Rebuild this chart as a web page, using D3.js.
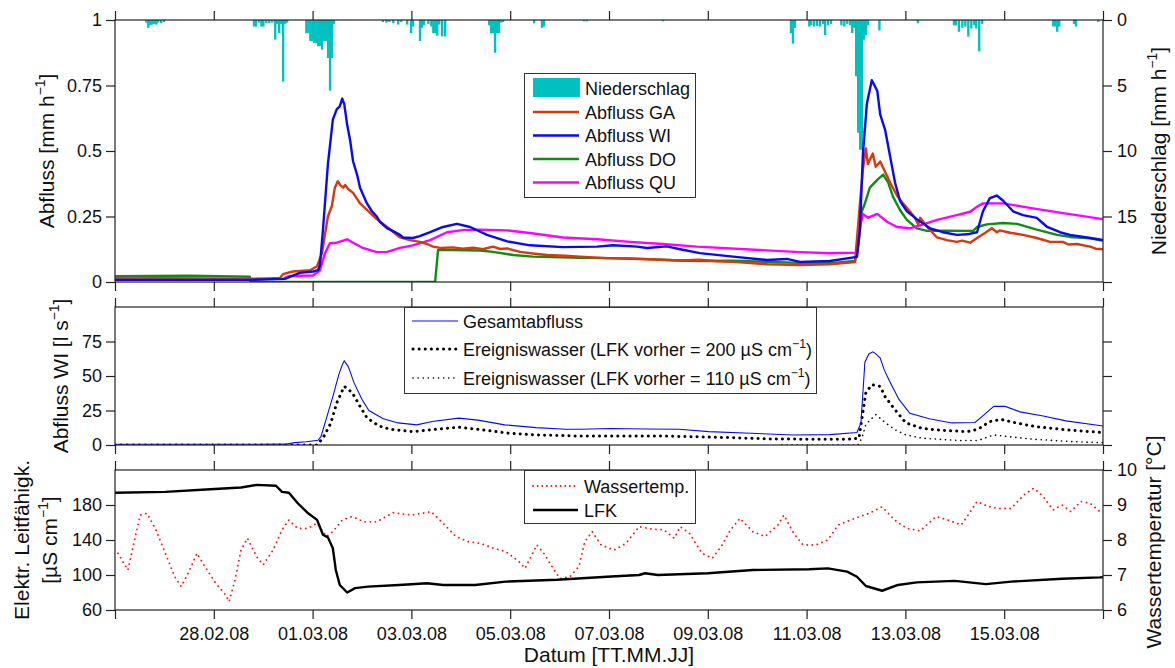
<!DOCTYPE html>
<html><head><meta charset="utf-8">
<script src="https://cdn.jsdelivr.net/npm/d3@7"></script>
<style>
body{margin:0;background:#fff}
text{font-family:"Liberation Sans",Arial,Helvetica,sans-serif;fill:#111}
</style>
</head><body>
<svg id="c" width="1175" height="668"></svg>
<script>
// ---------- DATA (day offset from 26.02.08 00:00) ----------
const tickDays = [0,2,4,6,8,10,12,14,16,18,20];
const tickLabels = ["","28.02.08","01.03.08","03.03.08","05.03.08","07.03.08","09.03.08","11.03.08","13.03.08","15.03.08",""];

const precip = [
 [0.61,0.2],[0.65,0.6],[0.69,0.4],[0.73,0.35],[0.77,0.3],[0.81,0.35],[0.85,0.2],[0.91,0.25],[0.97,0.15],
 [2.79,0.5],[2.83,0.5],[2.89,0.2],[2.94,0.5],[2.98,0.5],[3.04,0.25],[3.10,0.25],[3.16,0.2],[3.22,1.5],[3.26,0.3],[3.30,1.0],[3.34,0.3],[3.38,4.7],[3.42,0.3],[3.46,0.2],
 [3.85,1.0],[3.89,1.0],[3.93,1.6],[3.97,1.6],[4.01,1.75],[4.05,1.75],[4.09,2.0],[4.13,2.0],[4.17,2.26],[4.21,1.6],[4.25,1.6],[4.29,2.9],[4.33,5.4],[4.37,2.9],[4.41,0.3],
 [5.40,0.15],[5.47,0.2],[5.53,0.15],[5.61,0.25],[5.71,0.35],[5.77,0.15],[5.89,0.35],[5.97,1.0],[6.01,0.5],[6.15,1.6],[6.19,0.6],[6.23,0.4],[6.32,0.3],[6.38,0.5],[6.42,1.0],[6.46,1.0],[6.50,1.2],[6.54,0.35],[6.60,1.25],[6.66,1.25],
 [7.55,0.4],[7.59,1.0],[7.63,1.0],[7.67,2.5],[7.71,1.0],[7.75,1.0],[7.79,0.2],[7.83,0.15],
 [8.46,0.25],[8.62,0.6],[8.66,0.5],[9.47,0.1],[9.53,0.1],[11.07,0.1],
 [13.66,1.0],[13.70,1.8],[13.74,0.6],
 [14.03,0.5],[14.07,0.4],[14.13,0.5],[14.19,0.45],[14.25,0.5],[14.31,0.3],[14.35,1.15],[14.41,0.4],[14.47,0.3],
 [14.68,0.4],[14.74,0.5],[14.80,0.3],[14.86,0.4],[14.90,1.0],[14.94,0.6],[14.98,4.3],[15.02,8.6],[15.06,9.9],[15.10,9.9],[15.14,1.5],[15.18,1.15],[15.22,0.4],[15.45,0.8],
 [16.23,0.25],[16.96,0.4],[17.00,0.4],[17.06,0.9],[17.13,0.6],[17.19,0.5],[17.25,1.27],[17.31,0.65],[17.37,0.4],[17.41,0.65],[17.47,2.4],[17.53,0.3],
 [18.97,0.5],[19.01,0.5],[19.05,0.9],[19.09,0.5],[19.39,0.3],[19.43,0.5],[19.88,0.15]
];

const abflussGA = [
 [0,0.012],[2.73,0.01],[3.34,0.015],[3.40,0.03],[3.60,0.04],[3.95,0.045],[4.09,0.06],[4.19,0.11],[4.31,0.25],[4.39,0.29],[4.45,0.36],[4.51,0.385],[4.56,0.37],[4.62,0.36],[4.66,0.37],[4.72,0.355],[4.82,0.34],[4.96,0.30],[5.10,0.275],[5.30,0.24],[5.51,0.21],[5.77,0.17],[5.97,0.16],[6.17,0.153],[6.32,0.145],[6.44,0.135],[6.58,0.13],[6.84,0.132],[7.04,0.127],[7.25,0.131],[7.45,0.125],[7.65,0.135],[7.80,0.126],[7.94,0.128],[8.20,0.115],[8.50,0.108],[8.74,0.103],[9.10,0.1],[9.41,0.097],[10.08,0.09],[10.77,0.087],[11.44,0.082],[11.84,0.085],[12.2,0.079],[12.51,0.077],[13.20,0.068],[13.87,0.065],[14.47,0.068],[14.98,0.076],[15.08,0.30],[15.14,0.43],[15.20,0.51],[15.24,0.45],[15.34,0.49],[15.40,0.44],[15.49,0.46],[15.59,0.42],[15.69,0.38],[15.83,0.33],[15.95,0.30],[16.09,0.27],[16.19,0.245],[16.26,0.22],[16.30,0.245],[16.44,0.21],[16.64,0.17],[16.84,0.16],[17.04,0.153],[17.15,0.158],[17.31,0.15],[17.45,0.168],[17.61,0.187],[17.75,0.205],[17.85,0.19],[17.91,0.197],[18.12,0.188],[18.38,0.18],[18.66,0.168],[18.93,0.153],[19.19,0.153],[19.30,0.143],[19.47,0.145],[19.74,0.135],[19.85,0.127],[20,0.125]
];
const abflussWI = [
 [0,0.008],[2.73,0.008],[3.44,0.012],[3.74,0.035],[4.01,0.04],[4.11,0.045],[4.15,0.065],[4.21,0.2],[4.31,0.45],[4.41,0.62],[4.49,0.66],[4.55,0.67],[4.60,0.70],[4.64,0.68],[4.70,0.6],[4.76,0.54],[4.82,0.46],[4.90,0.41],[4.96,0.36],[5.10,0.30],[5.20,0.27],[5.30,0.25],[5.36,0.23],[5.51,0.205],[5.57,0.20],[5.77,0.18],[5.83,0.17],[6.03,0.168],[6.17,0.175],[6.38,0.19],[6.64,0.21],[6.92,0.222],[7.19,0.21],[7.53,0.18],[7.94,0.155],[8.40,0.14],[9.07,0.133],[9.76,0.135],[10.08,0.14],[10.57,0.135],[10.77,0.13],[11.17,0.136],[11.44,0.125],[11.84,0.11],[12.51,0.097],[13.20,0.084],[13.60,0.088],[13.87,0.077],[14.47,0.08],[15.02,0.096],[15.08,0.2],[15.14,0.49],[15.22,0.68],[15.32,0.77],[15.43,0.73],[15.49,0.64],[15.59,0.58],[15.69,0.48],[15.79,0.38],[15.89,0.31],[16.03,0.27],[16.23,0.24],[16.50,0.205],[16.76,0.19],[17.04,0.18],[17.25,0.182],[17.45,0.19],[17.57,0.27],[17.71,0.32],[17.85,0.33],[17.98,0.31],[18.18,0.27],[18.38,0.255],[18.66,0.245],[18.87,0.21],[19.13,0.19],[19.33,0.18],[19.68,0.17],[20,0.16]
];
const abflussDO = [
 [0,0.022],[1.5,0.024],[2.73,0.02],[2.74,0.0],[6.48,0.0],[6.54,0.122],[6.84,0.122],[7.39,0.12],[7.65,0.115],[8.06,0.103],[8.46,0.097],[9.41,0.092],[10.43,0.09],[11.44,0.082],[11.84,0.08],[12.51,0.081],[13.87,0.073],[14.47,0.072],[14.98,0.08],[15.04,0.135],[15.12,0.27],[15.18,0.30],[15.28,0.36],[15.43,0.39],[15.55,0.41],[15.65,0.38],[15.75,0.325],[15.89,0.275],[16.03,0.237],[16.23,0.205],[16.44,0.195],[16.84,0.196],[17.37,0.195],[17.45,0.21],[17.65,0.22],[17.98,0.225],[18.26,0.222],[18.66,0.20],[19.07,0.18],[19.33,0.172],[19.74,0.167],[20,0.157]
];
const abflussQU = [
 [0,0.015],[3.40,0.012],[3.54,0.023],[4.01,0.025],[4.15,0.045],[4.25,0.11],[4.35,0.148],[4.49,0.15],[4.70,0.163],[4.82,0.15],[5.02,0.13],[5.30,0.114],[5.51,0.115],[5.77,0.13],[6.03,0.14],[6.38,0.16],[6.72,0.19],[7.04,0.198],[7.39,0.20],[7.94,0.197],[8.40,0.187],[9.07,0.17],[9.76,0.163],[10.43,0.153],[11.09,0.145],[11.78,0.135],[13.87,0.114],[14.47,0.11],[15.02,0.112],[15.08,0.21],[15.14,0.26],[15.24,0.245],[15.43,0.26],[15.63,0.23],[15.83,0.21],[16.09,0.205],[16.36,0.22],[16.64,0.237],[17.04,0.255],[17.31,0.268],[17.45,0.287],[17.57,0.30],[17.98,0.30],[18.52,0.283],[19.19,0.263],[20,0.24]
];

const gesamtabfluss = [
 [0,0.5],[3.44,0.6],[3.64,1.7],[3.87,2.4],[4.11,3.4],[4.17,6],[4.29,20.6],[4.41,35],[4.53,51],[4.60,58],[4.64,61],[4.72,57],[4.84,45],[5.00,33],[5.14,25],[5.43,19],[5.73,16],[6.11,14.6],[6.42,17],[6.96,19.5],[7.35,18],[7.89,14.6],[8.52,12.6],[9.13,11.4],[9.41,11.4],[10.02,12],[10.79,11.6],[11.42,11.4],[12.02,9.7],[12.87,8.5],[13.72,7.3],[14.47,7.5],[15.02,9],[15.10,16],[15.18,60],[15.26,66],[15.34,67.5],[15.40,66],[15.49,63],[15.57,54.6],[15.67,47],[15.87,33],[16.09,23],[16.48,19],[16.94,16],[17.41,16.3],[17.55,20.6],[17.79,28],[18.02,28],[18.32,24],[18.79,21],[19.25,17.5],[20,13.8]
];
const ereignis200 = [
 [0,0],[4.09,0],[4.11,1],[4.21,5],[4.37,16],[4.49,30.6],[4.64,42.5],[4.80,38],[4.96,28],[5.10,19.7],[5.34,13.8],[5.57,11.4],[6.03,9.7],[6.50,11.4],[6.96,12.9],[7.43,11],[7.98,8.5],[8.52,7.3],[9.29,6.6],[10.18,6.6],[10.95,6.6],[11.72,6],[12.49,5.3],[13.26,4.4],[14.03,4.2],[14.80,4.1],[15.06,4.9],[15.14,24],[15.20,38],[15.32,43.7],[15.49,42.5],[15.59,35],[15.79,25.5],[16.01,16],[16.34,12],[16.78,10.5],[17.25,9.7],[17.47,11.4],[17.71,17],[17.94,18.5],[18.24,16],[18.62,13.4],[19.25,11],[20,9]
];
const ereignis110 = [
 [13.50,0],[15.04,0],[15.12,5],[15.20,15],[15.40,22],[15.60,16],[15.79,11],[16.0,7.5],[16.34,4.9],[17.11,3.2],[17.47,3.3],[17.79,7.3],[18.10,6],[18.62,4.1],[19.39,2.4],[20,1.7]
];

const lfk = [
 [0,194],[1.02,195],[1.93,198],[2.55,200],[2.87,203],[3.26,202],[3.38,195],[3.52,194],[3.70,182],[3.91,170.5],[4.09,163],[4.21,146],[4.31,143],[4.41,130.5],[4.47,105.7],[4.55,88.6],[4.70,80],[4.86,85],[5.12,86.7],[5.75,88.6],[6.32,90.5],[6.64,88.6],[7.29,88.6],[7.91,92.4],[8.95,94.5],[9.96,98],[10.61,100],[10.73,102],[10.99,100],[12.00,102],[12.91,105.7],[14.05,106.5],[14.43,107.6],[14.82,103.8],[15.02,98],[15.20,87.4],[15.53,82],[15.85,88.6],[16.23,91.6],[17.00,93.3],[17.63,89.6],[18.14,92.4],[19.17,95.7],[19.94,97.3],[20,97.5]
];
const wassertemp = [
 [0.06,7.62],[0.26,7.14],[0.38,7.9],[0.51,8.71],[0.65,8.76],[0.83,8.29],[1.02,7.62],[1.21,6.95],[1.34,6.67],[1.48,7.05],[1.66,7.62],[1.78,7.33],[2.04,6.76],[2.24,6.43],[2.31,6.24],[2.43,6.86],[2.55,7.71],[2.68,8.05],[2.87,7.52],[3.00,7.29],[3.20,7.71],[3.38,8.29],[3.52,8.57],[3.70,8.33],[3.90,8.33],[4.09,8.48],[4.28,8.1],[4.41,8.24],[4.60,8.57],[4.80,8.67],[5.04,8.52],[5.30,8.52],[5.63,8.78],[6.01,8.71],[6.40,8.81],[6.64,8.48],[6.90,8.1],[7.16,7.95],[7.41,7.9],[7.67,7.76],[7.91,7.67],[8.18,7.38],[8.30,7.19],[8.54,7.86],[8.68,7.62],[8.89,7.14],[9.01,6.9],[9.21,6.95],[9.39,7.24],[9.51,7.95],[9.66,8.24],[9.84,7.86],[10.10,7.71],[10.34,7.9],[10.61,8.38],[10.87,8.31],[11.11,8.29],[11.32,8.05],[11.44,8.38],[11.63,8.19],[11.88,7.62],[12.09,7.48],[12.27,7.81],[12.46,8.29],[12.65,8.62],[12.91,8.24],[13.16,8.1],[13.42,8.43],[13.54,8.71],[13.74,8.19],[13.93,7.86],[14.19,7.86],[14.43,8.0],[14.64,8.43],[14.89,8.57],[15.08,8.67],[15.26,8.76],[15.53,8.95],[15.78,8.57],[16.03,8.33],[16.30,8.26],[16.62,8.67],[16.86,8.57],[17.13,8.43],[17.25,8.67],[17.45,9.1],[17.69,8.95],[17.89,8.9],[18.14,8.9],[18.40,9.29],[18.60,9.48],[18.79,9.24],[18.99,8.86],[19.17,9.0],[19.35,8.81],[19.55,9.1],[19.74,9.05],[19.94,8.81]
];

const topLeftTicks = [0,0.25,0.5,0.75,1];
const topRightTicks = [0,5,10,15,20];
const midTicks = [0,25,50,75];
const botLeftTicks = [60,100,140,180];
const botRightTicks = [6,7,8,9,10];

// ---------- LAYOUT ----------
const svg = d3.select("#c");
const X0 = 115, X1 = 1103;
const P1 = {top:20, bot:282}, P2 = {top:307, bot:445}, P3 = {top:470, bot:610};
const t0 = Date.UTC(2008,1,26);
const toDate = d => new Date(t0 + d*86400000);
const x = d3.scaleUtc().domain([toDate(0), toDate(20)]).range([X0, X1]);

const yQ = d3.scaleLinear().domain([0,1]).range([P1.bot, P1.top]);
const yP = d3.scaleLinear().domain([0,20]).range([P1.top, P1.bot]);
const yM = d3.scaleLinear().domain([0,100]).range([P2.bot, P2.top]);
const yL = d3.scaleLinear().domain([60,220]).range([P3.bot, P3.top]);
const yT = d3.scaleLinear().domain([6,10]).range([P3.bot, P3.top]);

const FS = 18, TS = 9;
const axisColor = "#222";

function styleAxis(g){
  g.select(".domain").remove();
  g.selectAll(".tick line").attr("stroke", axisColor).attr("stroke-width",1.2);
  g.selectAll(".tick text").style("font-size", FS+"px").attr("fill","#111")
   .style("font-family",'"Liberation Sans",Arial,sans-serif');
}

function xAxes(p, labels){
  const tv = tickDays.map(toDate);
  svg.append("g").attr("transform",`translate(0,${p.top})`)
    .call(d3.axisTop(x).tickValues(tv).tickSize(TS).tickFormat("")).call(styleAxis);
  svg.append("g").attr("transform",`translate(0,${p.bot})`)
    .call(d3.axisBottom(x).tickValues(tv).tickSize(TS).tickPadding(8)
      .tickFormat((d,i)=> labels ? tickLabels[i] : "")).call(styleAxis);
}

// ---------- PANEL 1 ----------
svg.append("clipPath").attr("id","cp1").append("rect")
  .attr("x",X0).attr("y",P1.top).attr("width",X1-X0).attr("height",P1.bot-P1.top);
const g1 = svg.append("g").attr("clip-path","url(#cp1)");
const hourW = x(toDate(1/24)) - x(toDate(0));
g1.selectAll("rect.p").data(precip).enter().append("rect")
  .attr("x", d=>x(toDate(d[0])))
  .attr("y", yP(0))
  .attr("width", hourW+0.3)
  .attr("height", d=>yP(d[1])-yP(0))
  .attr("fill","#00c0c0");

const line1 = d3.line().x(d=>x(toDate(d[0]))).y(d=>yQ(d[1]));
const topSeries = [
  {data:abflussGA, color:"#d8380e", name:"Abfluss GA"},
  {data:abflussWI, color:"#0a0af0", name:"Abfluss WI"},
  {data:abflussDO, color:"#138a13", name:"Abfluss DO"},
  {data:abflussQU, color:"#ff00ff", name:"Abfluss QU"}
];
[topSeries[2], topSeries[3], topSeries[0], topSeries[1]].forEach(s=>{
  g1.append("path").datum(s.data).attr("d",line1).attr("fill","none")
    .attr("stroke",s.color).attr("stroke-width",2.4).attr("stroke-linejoin","round");
});
svg.append("rect").attr("x",X0).attr("y",P1.top).attr("width",X1-X0).attr("height",P1.bot-P1.top)
  .attr("fill","none").attr("stroke",axisColor).attr("stroke-width",1.2);
xAxes(P1,false);
svg.append("g").attr("transform",`translate(${X0},0)`)
  .call(d3.axisLeft(yQ).tickValues(topLeftTicks).tickSize(TS).tickPadding(4).tickFormat(d=>String(d))).call(styleAxis);
svg.append("g").attr("transform",`translate(${X1},0)`)
  .call(d3.axisRight(yP).tickValues(topRightTicks).tickSize(TS).tickPadding(5).tickFormat(d=> d===20?"":String(d))).call(styleAxis);

// legend 1
const L1 = svg.append("g");
L1.append("rect").attr("x",524.5).attr("y",73.5).attr("width",171).attr("height",124)
  .attr("fill","#fff").attr("stroke","#333").attr("stroke-width",1);
L1.append("rect").attr("x",533).attr("y",78).attr("width",47).attr("height",19).attr("fill","#00c0c0");
L1.append("text").attr("x",585).attr("y",88+6.5).style("font-size",FS+"px").text("Niederschlag");
topSeries.forEach((s,i)=>{
  const yy = 112 + i*23.5;
  L1.append("line").attr("x1",533).attr("x2",579).attr("y1",yy).attr("y2",yy)
    .attr("stroke",s.color).attr("stroke-width",2.4);
  L1.append("text").attr("x",585).attr("y",yy+6.5).style("font-size",FS+"px").text(s.name);
});

// ---------- PANEL 2 ----------
svg.append("clipPath").attr("id","cp2").append("rect")
  .attr("x",X0).attr("y",P2.top).attr("width",X1-X0).attr("height",P2.bot-P2.top);
const g2 = svg.append("g").attr("clip-path","url(#cp2)");
const line2 = d3.line().x(d=>x(toDate(d[0]))).y(d=>yM(d[1]));
g2.append("path").datum(ereignis110).attr("d",line2).attr("fill","none")
  .attr("stroke","#000").attr("stroke-width",1.6).attr("stroke-dasharray","0.1 5").attr("stroke-linecap","round");
g2.append("path").datum(ereignis200).attr("d",line2).attr("fill","none")
  .attr("stroke","#000").attr("stroke-width",3).attr("stroke-dasharray","0.1 6").attr("stroke-linecap","round");
g2.append("path").datum(gesamtabfluss).attr("d",line2).attr("fill","none")
  .attr("stroke","#0a0af0").attr("stroke-width",1.1);
svg.append("rect").attr("x",X0).attr("y",P2.top).attr("width",X1-X0).attr("height",P2.bot-P2.top)
  .attr("fill","none").attr("stroke",axisColor).attr("stroke-width",1.2);
xAxes(P2,false);
svg.append("g").attr("transform",`translate(${X0},0)`)
  .call(d3.axisLeft(yM).tickValues(midTicks).tickSize(TS).tickPadding(4)).call(styleAxis);
svg.append("g").attr("transform",`translate(${X1},0)`)
  .call(d3.axisRight(yM).tickValues(midTicks).tickSize(TS).tickFormat("")).call(styleAxis);

// legend 2
const L2 = svg.append("g");
L2.append("rect").attr("x",404.5).attr("y",307.5).attr("width",412).attr("height",86)
  .attr("fill","#fff").attr("stroke","#333").attr("stroke-width",1);
function supText(g, xx, yy, parts, fs){
  const t = g.append("text").attr("x",xx).attr("y",yy).style("font-size",fs+"px");
  parts.forEach(p=>{
    if (p.sup) t.append("tspan").attr("dy",-fs*0.42).style("font-size",(fs*0.68)+"px").text(p.sup);
    else t.append("tspan").attr("dy", p.reset ? fs*0.42 : 0).text(p.t);
  });
  return t;
}
L2.append("line").attr("x1",412).attr("x2",458).attr("y1",321).attr("y2",321).attr("stroke","#0a0af0").attr("stroke-width",1.1);
L2.append("text").attr("x",463).attr("y",321+6.5).style("font-size","18px").text("Gesamtabfluss");
L2.append("line").attr("x1",413).attr("x2",458).attr("y1",349).attr("y2",349).attr("stroke","#000")
  .attr("stroke-width",3).attr("stroke-dasharray","0.1 6").attr("stroke-linecap","round");
supText(L2,463,349+6.5,[{t:"Ereigniswasser (LFK vorher = 200 µS cm"},{sup:"−1"},{t:")",reset:true}],18);
L2.append("line").attr("x1",413).attr("x2",458).attr("y1",378).attr("y2",378).attr("stroke","#000")
  .attr("stroke-width",1.6).attr("stroke-dasharray","0.1 5").attr("stroke-linecap","round");
supText(L2,463,378+6.5,[{t:"Ereigniswasser (LFK vorher = 110 µS cm"},{sup:"−1"},{t:")",reset:true}],18);

// ---------- PANEL 3 ----------
svg.append("clipPath").attr("id","cp3").append("rect")
  .attr("x",X0).attr("y",P3.top).attr("width",X1-X0).attr("height",P3.bot-P3.top);
const g3 = svg.append("g").attr("clip-path","url(#cp3)");
g3.append("path").datum(wassertemp)
  .attr("d", d3.line().x(d=>x(toDate(d[0]))).y(d=>yT(d[1])))
  .attr("fill","none").attr("stroke","#ff1010").attr("stroke-width",1.8)
  .attr("stroke-dasharray","0.1 5").attr("stroke-linecap","round");
g3.append("path").datum(lfk)
  .attr("d", d3.line().x(d=>x(toDate(d[0]))).y(d=>yL(d[1])))
  .attr("fill","none").attr("stroke","#000").attr("stroke-width",2.4).attr("stroke-linejoin","round");
svg.append("rect").attr("x",X0).attr("y",P3.top).attr("width",X1-X0).attr("height",P3.bot-P3.top)
  .attr("fill","none").attr("stroke",axisColor).attr("stroke-width",1.2);
xAxes(P3,true);
svg.append("g").attr("transform",`translate(${X0},0)`)
  .call(d3.axisLeft(yL).tickValues(botLeftTicks).tickSize(TS).tickPadding(4)).call(styleAxis);
svg.append("g").attr("transform",`translate(${X1},0)`)
  .call(d3.axisRight(yT).tickValues(botRightTicks).tickSize(TS).tickPadding(5).tickFormat(d3.format("d"))).call(styleAxis);

// legend 3
const L3 = svg.append("g");
L3.append("rect").attr("x",524.5).attr("y",470.5).attr("width",171).attr("height",53)
  .attr("fill","#fff").attr("stroke","#333").attr("stroke-width",1);
L3.append("line").attr("x1",533).attr("x2",578).attr("y1",486).attr("y2",486).attr("stroke","#ff1010")
  .attr("stroke-width",1.8).attr("stroke-dasharray","0.1 4.5").attr("stroke-linecap","round");
L3.append("text").attr("x",584).attr("y",486+6.5).style("font-size",FS+"px").text("Wassertemp.");
L3.append("line").attr("x1",533).attr("x2",578).attr("y1",510).attr("y2",510).attr("stroke","#000").attr("stroke-width",2.4);
L3.append("text").attr("x",584).attr("y",510+6.5).style("font-size",FS+"px").text("LFK");

// ---------- AXIS TITLES ----------
const TF = 21;
function rotTitle(xx, yy, parts){
  const t = svg.append("text").attr("transform",`translate(${xx},${yy}) rotate(-90)`)
    .attr("text-anchor","middle").style("font-size",TF+"px");
  parts.forEach(p=>{
    if (p.sup) t.append("tspan").attr("dy",-TF*0.42).style("font-size",(TF*0.66)+"px").text(p.sup);
    else t.append("tspan").attr("dy", p.reset ? TF*0.42 : 0).text(p.t);
  });
}
rotTitle(54, 151, [{t:"Abfluss [mm h"},{sup:"−1"},{t:"]",reset:true}]);
rotTitle(1166, 151, [{t:"Niederschlag [mm h"},{sup:"−1"},{t:"]",reset:true}]);
rotTitle(68, 376, [{t:"Abfluss WI [l s"},{sup:"−1"},{t:"]",reset:true}]);
rotTitle(29, 540, [{t:"Elektr. Leitfähigk."}]);
rotTitle(57, 540, [{t:"[µS cm"},{sup:"−1"},{t:"]",reset:true}]);
rotTitle(1161, 542, [{t:"Wassertemperatur [°C]"}]);
svg.append("text").attr("x",609).attr("y",662).attr("text-anchor","middle").style("font-size",TF+"px").text("Datum [TT.MM.JJ]");
</script>
</body></html>
